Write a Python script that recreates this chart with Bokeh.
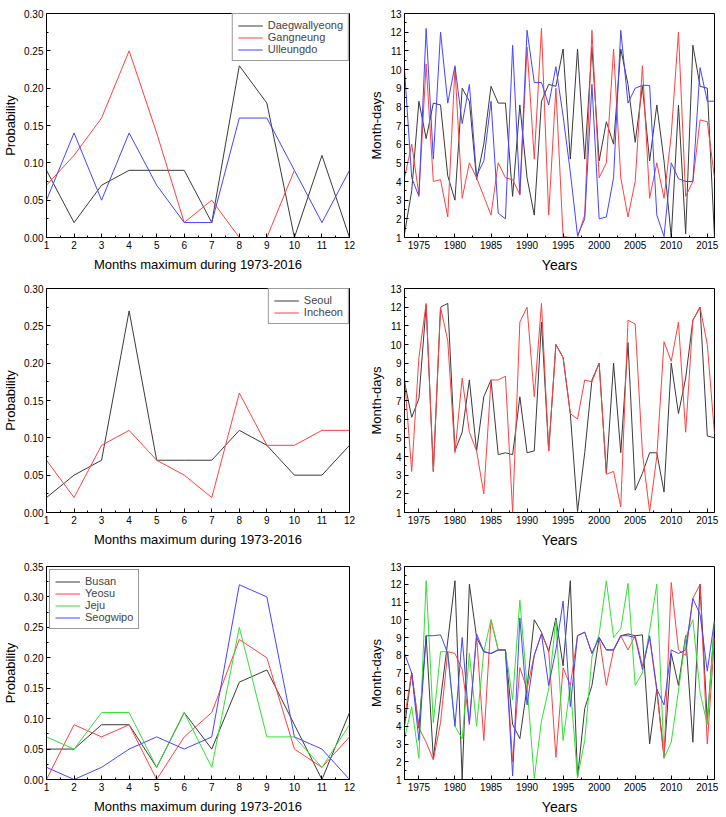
from bokeh.plotting import figure
from bokeh.layouts import column, row
from bokeh.models import (Range1d, FixedTicker, SingleIntervalTicker, NumeralTickFormatter,
                          Legend, LegendItem)
from bokeh.embed import file_html
from bokeh.resources import INLINE

FONT = "Liberation Sans"

months = list(range(1, 13))
prob_ticks_030 = [0.00, 0.05, 0.10, 0.15, 0.20, 0.25, 0.30]
prob_ticks_035 = [0.00, 0.05, 0.10, 0.15, 0.20, 0.25, 0.30, 0.35]

daegwallyeong_p = [0.09, 0.02, 0.07, 0.09, 0.09, 0.09, 0.02, 0.23, 0.18, 0.00, 0.11, 0.00]
gangneung_p = [0.07, 0.11, 0.16, 0.25, 0.14, 0.02, 0.05, 0.00, 0.00, 0.09]
ulleungdo_p = [0.05, 0.14, 0.05, 0.14, 0.07, 0.02, 0.02, 0.16, 0.16, 0.09, 0.02, 0.09]

seoul_p = [0.02, 0.05, 0.07, 0.27, 0.07, 0.07, 0.07, 0.11, 0.09, 0.05, 0.05, 0.09]
incheon_p = [0.07, 0.02, 0.09, 0.11, 0.07, 0.05, 0.02, 0.16, 0.09, 0.09, 0.11, 0.11]

busan_p = [0.05, 0.05, 0.09, 0.09, 0.02, 0.11, 0.05, 0.16, 0.18, 0.09, 0.00, 0.11]
yeosu_p = [0.00, 0.09, 0.07, 0.09, 0.00, 0.07, 0.11, 0.23, 0.20, 0.05, 0.02, 0.07]
jeju_p = [0.07, 0.05, 0.11, 0.11, 0.02, 0.11, 0.02, 0.25, 0.07, 0.07, 0.02, 0.09]
seogwipo_p = [0.02, 0.00, 0.02, 0.05, 0.07, 0.05, 0.07, 0.32, 0.30, 0.07, 0.05, 0.00]

years = list(range(1973, 2017))
daegwallyeong_y = [1.2, 3.5, 8.3, 6.3, 8.2, 8.1, 4.3, 3.0, 9.0, 8.3,
                   4.1, 6.0, 9.1, 8.2, 8.2, 3.2, 8.1, 4.2, 2.2, 8.3,
                   9.2, 9.1, 11.1, 5.2, 11.1, 5.2, 11.2, 5.1, 7.2, 6.0,
                   11.1, 9.2, 6.1, 9.1, 5.1, 8.1, 5.1, 1.0, 8.1, 1.2,
                   11.3, 9.1, 9.0, 1.0]
gangneung_y = [4.2, 6.0, 3.3, 10.3, 4.0, 4.1, 2.1, 10.1, 3.1, 5.0,
               4.2, 3.2, 2.2, 5.0, 4.2, 4.1, 3.3, 11.2, 5.2, 12.2,
               2.2, 9.0, 1.05, 1.0, 1.0, 2.2, 12.1, 4.2, 5.0, 11.1,
               4.2, 2.1, 4.0, 10.2, 3.1, 5.0, 3.1, 6.5, 12.0, 3.2,
               4.0, 7.3, 7.2, 4.2]
ulleungdo_y = [10.0, 4.2, 3.2, 12.2, 5.2, 12.0, 8.2, 10.2, 7.1, 9.2,
               4.3, 5.1, 8.3, 2.3, 2.0, 11.3, 3.3, 12.1, 9.3, 9.3,
               8.1, 10.15, 7.5, 4.5, 1.1, 2.0, 9.2, 2.0, 2.1, 4.2,
               12.1, 8.2, 9.0, 9.15, 9.15, 2.2, 1.05, 5.0, 4.15, 4.0,
               4.0, 10.1, 8.3, 8.3]

seoul_y = [8.0, 6.1, 7.1, 12.1, 3.2, 12.0, 12.2, 4.3, 5.3, 8.1,
           4.3, 7.2, 8.1, 4.1, 4.2, 4.1, 7.2, 4.2, 4.3, 11.2,
           4.3, 10.0, 9.3, 6.3, 1.05, 4.2, 8.1, 9.0, 3.1, 9.0,
           4.2, 10.1, 2.2, 3.1, 4.2, 4.2, 2.1, 9.0, 6.3, 8.2,
           11.3, 12.0, 5.1, 5.0]
incheon_y = [8.2, 3.2, 9.3, 12.2, 3.2, 12.0, 10.2, 4.2, 8.2, 5.3,
             4.3, 2.0, 8.1, 8.1, 8.3, 1.0, 11.2, 12.0, 7.2, 12.2,
             4.3, 10.0, 9.3, 6.3, 6.0, 8.1, 8.0, 9.0, 3.05, 3.2,
             1.3, 11.3, 11.1, 4.2, 1.05, 4.0, 10.15, 9.1, 11.2, 5.3,
             11.3, 12.0, 10.0, 5.2]

busan_y = [4.0, 7.0, 3.9, 9.1, 2.2, 5.5, 8.8, 12.2, 1.0, 12.0,
           9.0, 8.2, 8.1, 8.3, 8.3, 4.1, 3.3, 6.2, 10.0, 9.3,
           8.2, 10.1, 7.4, 12.2, 1.1, 5.0, 6.3, 9.0, 8.3, 8.3,
           9.1, 9.2, 9.1, 9.15, 3.0, 6.1, 2.3, 8.1, 6.3, 9.1,
           3.1, 12.0, 4.3, 9.8]
yeosu_y = [4.5, 7.0, 3.9, 3.1, 2.1, 4.2, 8.2, 8.1, 7.2, 4.2,
           9.1, 3.2, 10.0, 8.3, 8.3, 2.0, 7.3, 6.1, 8.0, 9.2,
           8.3, 2.25, 7.3, 6.3, 9.1, 9.3, 8.1, 9.0, 6.3, 8.3,
           9.1, 8.3, 9.1, 7.4, 9.0, 6.0, 2.2, 12.1, 8.3, 8.0,
           11.2, 12.0, 3.0, 9.0]
jeju_y = [3.3, 5.1, 2.2, 12.2, 4.2, 8.2, 8.2, 4.0, 3.3, 8.1,
          4.0, 8.2, 10.0, 8.3, 8.3, 5.5, 11.1, 6.3, 1.05, 4.3,
          6.1, 10.0, 3.2, 6.3, 1.1, 3.2, 7.9, 9.2, 12.2, 9.0,
          9.5, 12.05, 6.3, 7.0, 9.4, 12.0, 2.2, 3.1, 6.0, 9.0,
          10.0, 5.9, 4.1, 9.9]
seogwipo_y = [8.1, 7.0, 3.2, 9.1, 9.1, 9.15, 8.1, 4.0, 9.0, 4.1,
              9.2, 8.2, 8.1, 8.3, 8.3, 1.2, 10.1, 5.2, 8.0, 9.2,
              6.3, 8.3, 11.05, 5.1, 9.1, 9.3, 8.1, 9.0, 8.3, 8.3,
              9.1, 9.1, 9.0, 7.2, 9.1, 6.1, 5.2, 8.3, 8.1, 8.3,
              11.2, 10.3, 7.1, 10.0]

BLACK = "#3a3a3a"
RED = "#ff4040"
BLUE = "#4545ff"
GREEN = "#33e033"


def style(p, xlabel, ylabel, xlabel_size="13px"):
    p.outline_line_color = "black"
    p.outline_line_width = 1
    p.xgrid.visible = False
    p.ygrid.visible = False
    for ax in (p.xaxis[0], p.yaxis[0]):
        ax.axis_line_color = "black"
        ax.major_tick_in = 4
        ax.major_tick_out = 0
        ax.minor_tick_in = 2
        ax.minor_tick_out = 0
        ax.major_tick_line_color = "black"
        ax.minor_tick_line_color = "black"
        ax.major_label_text_font = FONT
        ax.major_label_text_font_size = "10px"
        ax.major_label_text_color = "black"
        ax.axis_label_text_font = FONT
        ax.axis_label_text_font_style = "normal"
        ax.axis_label_text_color = "black"
        ax.major_label_standoff = 3
    p.xaxis[0].axis_label = xlabel
    p.yaxis[0].axis_label = ylabel
    p.xaxis[0].axis_label_text_font_size = xlabel_size
    p.yaxis[0].axis_label_text_font_size = "13px"
    p.xaxis[0].axis_label_standoff = 5
    p.yaxis[0].axis_label_standoff = 3


def make_prob(series, yticks, height, top, bottom, legend_loc):
    ymax = yticks[-1]
    p = figure(width=360, height=height, output_backend="svg", toolbar_location=None,
               x_range=Range1d(1, 12), y_range=Range1d(0, ymax + 1e-9),
               min_border_left=44, min_border_right=11, min_border_top=top,
               min_border_bottom=bottom)
    style(p, "Months maximum during 1973-2016", "Probability")
    p.xaxis[0].ticker = FixedTicker(ticks=months, minor_ticks=[m + 0.5 for m in months[:-1]])
    minor = [round(t + 0.025, 3) for t in yticks[:-1]]
    p.yaxis[0].ticker = FixedTicker(ticks=yticks, minor_ticks=minor)
    p.yaxis[0].formatter = NumeralTickFormatter(format="0.00")
    items = []
    for name, vals, color in series:
        r = p.line(months[:len(vals)], vals, line_color=color, line_width=1)
        items.append(LegendItem(label=name, renderers=[r]))
    leg = Legend(items=items, location=legend_loc, margin=0 if legend_loc == "top_right" else 3,
                 padding=5, spacing=0, label_text_font=FONT, label_text_font_size="11px",
                 label_height=11, glyph_height=11, glyph_width=25, label_standoff=5,
                 border_line_color="#333333", border_line_width=1.5,
                 background_fill_color="white", background_fill_alpha=1)
    p.add_layout(leg)
    return p


def make_ts(series, height, top, bottom):
    p = figure(width=366, height=height, output_backend="svg", toolbar_location=None,
               x_range=Range1d(1973, 2016), y_range=Range1d(1, 13),
               min_border_left=44, min_border_right=12, min_border_top=top,
               min_border_bottom=bottom)
    style(p, "Years", "Month-days", xlabel_size="14px")
    p.xaxis[0].ticker = SingleIntervalTicker(interval=5, num_minor_ticks=2)
    p.yaxis[0].ticker = FixedTicker(ticks=list(range(1, 14)),
                                    minor_ticks=[v + 0.5 for v in range(1, 13)])
    for vals, color in series:
        p.line(years, vals, line_color=color, line_width=1)
    return p


p1 = make_prob([("Daegwallyeong", daegwallyeong_p, BLACK),
                ("Gangneung", gangneung_p, RED),
                ("Ulleungdo", ulleungdo_p, BLUE)], prob_ticks_030, 275, 13, 36, "top_right")
p2 = make_ts([(daegwallyeong_y, BLACK), (gangneung_y, RED), (ulleungdo_y, BLUE)], 275, 12, 38)

p3 = make_prob([("Seoul", seoul_p, BLACK),
                ("Incheon", incheon_p, RED)], prob_ticks_030, 275, 13, 36, "top_right")
p4 = make_ts([(seoul_y, BLACK), (incheon_y, RED)], 275, 13, 37)

p5 = make_prob([("Busan", busan_p, BLACK),
                ("Yeosu", yeosu_p, RED),
                ("Jeju", jeju_p, GREEN),
                ("Seogwipo", seogwipo_p, BLUE)], prob_ticks_035, 267, 16, 32, "top_left")
p6 = make_ts([(busan_y, BLACK), (yeosu_y, RED), (jeju_y, GREEN), (seogwipo_y, BLUE)], 267, 14, 34)

layout = column(row(p1, p2), row(p3, p4), row(p5, p6))
open("out.html", "w").write(file_html(layout, INLINE))
